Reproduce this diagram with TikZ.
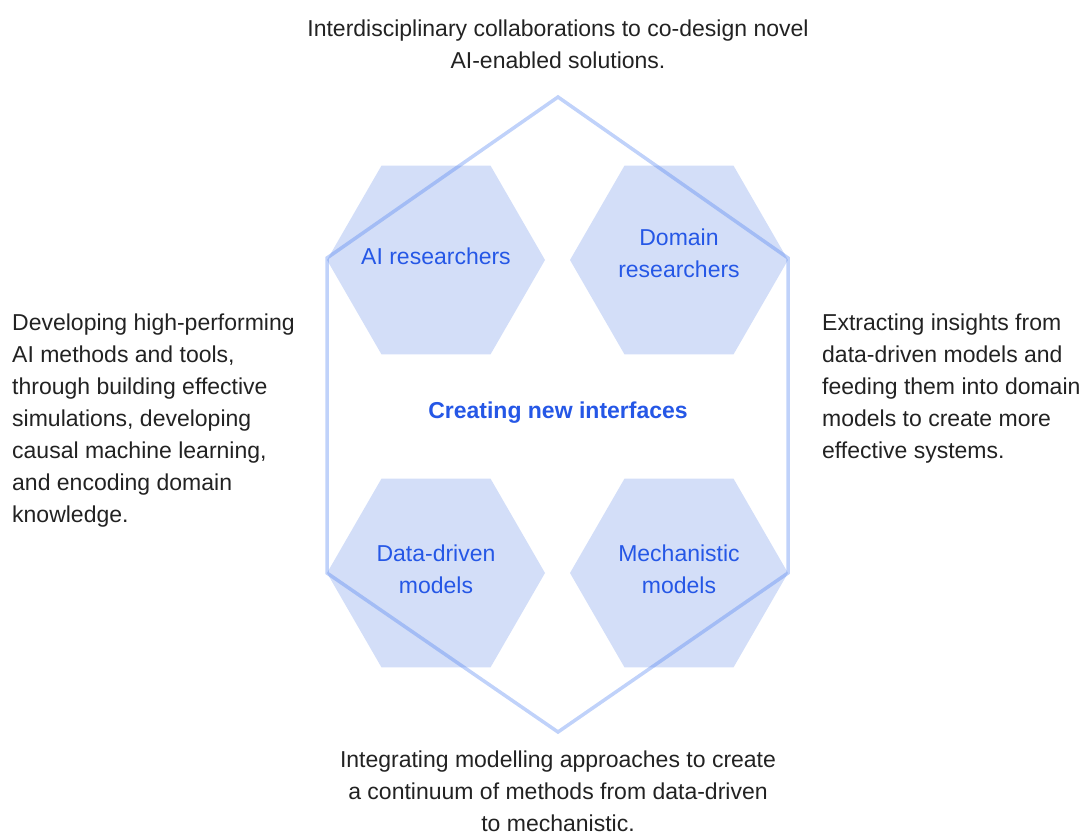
\documentclass[tikz,border=0pt]{standalone}
\usepackage{fontspec}
\setmainfont{Liberation Sans}
\usepackage{tikz}
\usetikzlibrary{shapes.geometric}
\usepackage{xcolor}
\definecolor{hxfill}{HTML}{D3DEF8}
\definecolor{hxline}{HTML}{4A7FF0}
\definecolor{hxtext}{HTML}{2557E6}
\definecolor{bodytext}{HTML}{222222}

\begin{document}
\begin{tikzpicture}[x=1pt, y=-1pt,
  hexa/.style={regular polygon, regular polygon sides=6, minimum size=218pt,
               inner sep=0pt, outer sep=0pt, fill=hxfill, draw=none},
  hexlabel/.style={text=hxtext, align=center, font=\fontsize{23}{32}\selectfont},
  side/.style={text=bodytext, inner xsep=0pt, font=\fontsize{23}{32}\selectfont},
  frame/.style={draw=hxline, draw opacity=0.35, line width=3.5pt, line join=miter},
]
  \useasboundingbox (0,0) rectangle (1088,836);

  % Hexagons
  \node[hexa] (ai)   at (436,260) {};
  \node[hexa] (dom)  at (679,260) {};
  \node[hexa] (data) at (436,573) {};
  \node[hexa] (mech) at (679,573) {};

  \node[hexlabel] (ailbl)   at (436,256) {AI researchers};
  \node[hexlabel] (domlbl)  at (679,253) {Domain\\researchers};
  \node[hexlabel] (datalbl) at (436,569) {Data-driven\\models};
  \node[hexlabel] (mechlbl) at (679,569) {Mechanistic\\models};

  % Outer frame
  \coordinate (t)  at (558,97);
  \coordinate (tr) at (788,258);
  \coordinate (br) at (788,573);
  \coordinate (b)  at (558,732);
  \coordinate (bl) at (327,573);
  \coordinate (tl) at (327,258);
  \draw[frame] (t) -- (tr) -- (br) -- (b) -- (bl) -- (tl) -- cycle;

  \node[text=hxtext, font=\fontsize{23}{28}\selectfont\bfseries] (core) at (558,413) {Creating new interfaces};

  % Side texts
  \node[side, align=center] (top) at (558,44)
    {Interdisciplinary collaborations to co-design novel\\AI-enabled solutions.};
  \node[side, align=left, anchor=west] (left) at (12,421)
    {Developing high-performing\\AI methods and tools,\\through building effective\\simulations, developing\\causal machine learning,\\and encoding domain\\knowledge.};
  \node[side, align=left, anchor=west] (right) at (822,389)
    {Extracting insights from\\data-driven models and\\feeding them into domain\\models to create more\\effective systems.};
  \node[side, align=center, inner ysep=0pt] (bottom) at (558,791)
    {Integrating modelling approaches to create\\a continuum of methods from data-driven\\to mechanistic.};
\end{tikzpicture}
\end{document}
